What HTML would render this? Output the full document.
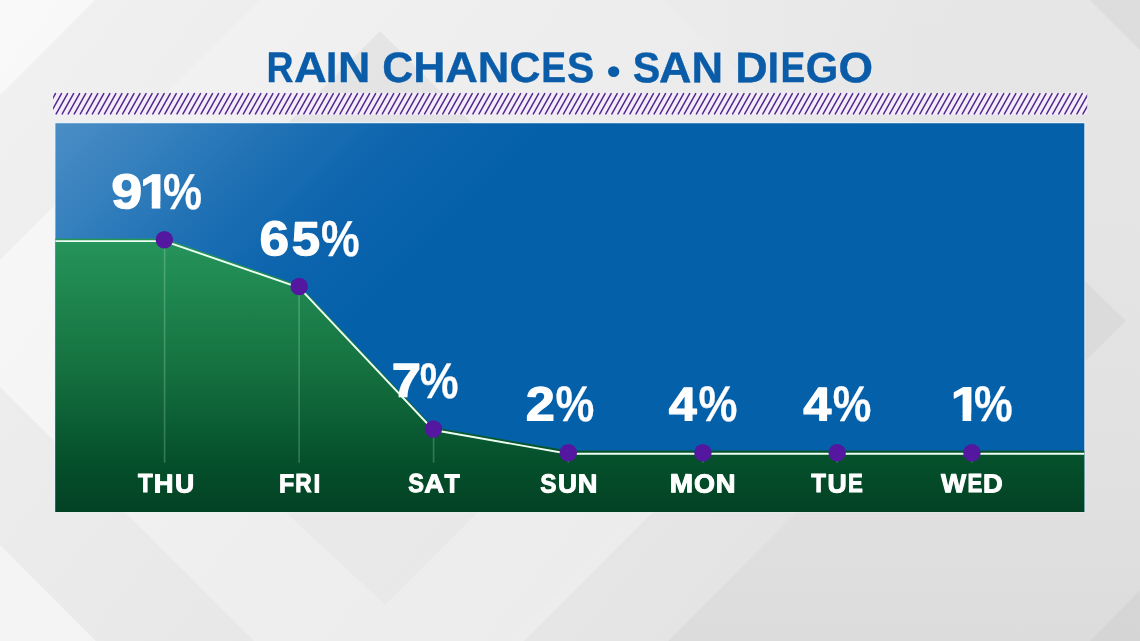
<!DOCTYPE html>
<html lang="en">
<head>
<meta charset="utf-8">
<title>Rain Chances - San Diego</title>
<style>
  html, body { margin: 0; padding: 0; background: #ececec; }
  body { width: 1140px; height: 641px; overflow: hidden; font-family: "Liberation Sans", sans-serif; }
  svg { display: block; }
  text { font-family: "Liberation Sans", sans-serif; font-weight: bold; text-rendering: geometricPrecision; }
</style>
</head>
<body>
<svg width="1140" height="641" viewBox="0 0 1140 641">
  <defs>
    <linearGradient id="bgGrad" gradientUnits="userSpaceOnUse" x1="0" y1="0" x2="1000" y2="800">
      <stop offset="0" stop-color="#f4f4f4"/>
      <stop offset="1" stop-color="#e2e2e2"/>
    </linearGradient>
    <linearGradient id="blueHi" gradientUnits="userSpaceOnUse" x1="55" y1="123" x2="305" y2="373">
      <stop offset="0" stop-color="#4b8ec6"/>
      <stop offset="0.25" stop-color="#347fbd"/>
      <stop offset="0.5" stop-color="#1c6fb3"/>
      <stop offset="0.75" stop-color="#0c64ad"/>
      <stop offset="1" stop-color="#0560aa"/>
    </linearGradient>
    <linearGradient id="greenGrad" gradientUnits="userSpaceOnUse" x1="0" y1="241" x2="0" y2="512">
      <stop offset="0" stop-color="#25945b"/>
      <stop offset="0.45" stop-color="#167341"/>
      <stop offset="0.8" stop-color="#05512c"/>
      <stop offset="1" stop-color="#034224"/>
    </linearGradient>
    <clipPath id="hatchClip"><rect x="53.1" y="92" width="1034.1" height="24"/></clipPath>
    <linearGradient id="rightShade" gradientUnits="userSpaceOnUse" x1="0" y1="0" x2="0" y2="641">
      <stop offset="0" stop-color="#e6e6e6"/>
      <stop offset="0.39" stop-color="#e4e4e4"/>
      <stop offset="0.75" stop-color="#e1e1e1"/>
      <stop offset="0.936" stop-color="#dddddd"/>
      <stop offset="1" stop-color="#dcdcdc"/>
    </linearGradient>
    <linearGradient id="topFade" gradientUnits="userSpaceOnUse" x1="700" y1="0" x2="1000" y2="0">
      <stop offset="0" stop-color="#ffffff" stop-opacity="0.2"/>
      <stop offset="1" stop-color="#ffffff" stop-opacity="0"/>
    </linearGradient>
    <clipPath id="oneA"><path clip-rule="evenodd" d="M0,0H1140V641H0Z M141.71,201.68H151.79V210.60H141.71Z M160.30,201.68H169.70V210.60H160.30Z"/></clipPath>
    <clipPath id="oneB"><path clip-rule="evenodd" d="M0,0H1140V641H0Z M952.46,414.31H962.62V423.20H952.46Z M971.20,414.31H980.68V423.20H971.20Z"/></clipPath>
    <clipPath id="chartClip"><rect x="55.4" y="123.2" width="1028.9" height="388.9"/></clipPath>
  </defs>

  <!-- background -->
  <rect x="0" y="0" width="1140" height="641" fill="url(#bgGrad)"/>
  <g id="facets">
    <polygon points="0,0 95,0 0,95" fill="#ffffff" fill-opacity="0.45"/>
    <polygon points="95,0 260,0 0,260 0,95" fill="#000000" fill-opacity="0.012"/>
    <polygon points="380,31 480,131 280,131" fill="#000000" fill-opacity="0.045"/>
    <polygon points="665,0 1140,0 1140,641 668,641 988.5,320.5" fill="url(#rightShade)"/>
    <polygon points="665,0 1000,0 1000,131 796,131" fill="url(#topFade)"/>
    <polygon points="1090,0 1140,0 1140,50" fill="#000000" fill-opacity="0.04"/>
    <polygon points="1080,276 1126,321 1080,366" fill="#000000" fill-opacity="0.035"/>
    <polygon points="0,260 70,190 70,457 0,387" fill="#ffffff" fill-opacity="0.35"/>
    <polygon points="0,387 0,545 96,641 254,641" fill="#000000" fill-opacity="0.015"/>
    <polygon points="0,545 96,641 0,641" fill="#ffffff" fill-opacity="0.35"/>
    <polygon points="118,505 646,505 510,641 254,641" fill="#ffffff" fill-opacity="0.15"/>
    <polygon points="283,510 385,605 480,510" fill="#000000" fill-opacity="0.02"/>
    <polygon points="641,510 655,510 524,641 510,641" fill="#ffffff" fill-opacity="0.2"/>
    <polygon points="655,510 799,510 668,641 524,641" fill="#000000" fill-opacity="0.012"/>
    <polygon points="1090,641 1140,590 1140,641" fill="#000000" fill-opacity="0.03"/>
  </g>

  <!-- title -->
  <text fill="#0a5ca8" stroke="#0a5ca8" stroke-width="0.4" stroke-linejoin="round" transform="rotate(0.03 570.1 67.4)"><tspan x="266.55" y="82.15" font-size="42.8" textLength="26.96" lengthAdjust="spacingAndGlyphs">R</tspan><tspan x="293.9" y="82.15" font-size="42.8" textLength="32.75" lengthAdjust="spacingAndGlyphs">A</tspan><tspan x="326.1" y="82.15" font-size="42.8" textLength="11.27" lengthAdjust="spacingAndGlyphs">I</tspan><tspan x="338.05" y="82.15" font-size="42.8" textLength="32.28" lengthAdjust="spacingAndGlyphs">N</tspan> <tspan x="382.2" y="82.15" font-size="42.8" textLength="30.97" lengthAdjust="spacingAndGlyphs">C</tspan><tspan x="413.35" y="82.15" font-size="42.8" textLength="32.16" lengthAdjust="spacingAndGlyphs">H</tspan><tspan x="445.2" y="82.15" font-size="42.8" textLength="32.64" lengthAdjust="spacingAndGlyphs">A</tspan><tspan x="477.7" y="82.15" font-size="42.8" textLength="31.53" lengthAdjust="spacingAndGlyphs">N</tspan><tspan x="509.6" y="82.15" font-size="42.8" textLength="30.97" lengthAdjust="spacingAndGlyphs">C</tspan><tspan x="541.15" y="82.15" font-size="42.8" textLength="24.88" lengthAdjust="spacingAndGlyphs">E</tspan><tspan x="567.1" y="82.15" font-size="42.8" textLength="27.17" lengthAdjust="spacingAndGlyphs">S</tspan> <tspan x="606.65" y="83.9" font-size="37.79" textLength="13.86" lengthAdjust="spacingAndGlyphs" stroke-width="0">•</tspan> <tspan x="632.8" y="82.15" font-size="42.8" textLength="27.5" lengthAdjust="spacingAndGlyphs">S</tspan><tspan x="659.0" y="82.15" font-size="42.8" textLength="32.49" lengthAdjust="spacingAndGlyphs">A</tspan><tspan x="691.5" y="82.15" font-size="42.8" textLength="31.56" lengthAdjust="spacingAndGlyphs">N</tspan> <tspan x="735.15" y="82.15" font-size="42.8" textLength="32.47" lengthAdjust="spacingAndGlyphs">D</tspan><tspan x="767.6" y="82.15" font-size="42.8" textLength="11.54" lengthAdjust="spacingAndGlyphs">I</tspan><tspan x="780.55" y="82.15" font-size="42.8" textLength="24.76" lengthAdjust="spacingAndGlyphs">E</tspan><tspan x="805.8" y="82.15" font-size="42.8" textLength="32.53" lengthAdjust="spacingAndGlyphs">G</tspan><tspan x="838.5" y="82.15" font-size="42.8" textLength="34.54" lengthAdjust="spacingAndGlyphs">O</tspan></text>

  <!-- hatch strip -->
  <rect x="53" y="92.8" width="1034.2" height="22" fill="#f3ecfa"/>
  <path clip-path="url(#hatchClip)" fill="none" stroke="#532a8b" stroke-width="1.5" stroke-linecap="round" d="M44.08,113.95l11.36,-20.30M50.12,113.95l11.36,-20.30M56.16,113.95l11.36,-20.30M62.20,113.95l11.36,-20.30M68.24,113.95l11.36,-20.30M74.28,113.95l11.36,-20.30M80.32,113.95l11.36,-20.30M86.36,113.95l11.36,-20.30M92.40,113.95l11.36,-20.30M98.44,113.95l11.36,-20.30M104.48,113.95l11.36,-20.30M110.52,113.95l11.36,-20.30M116.56,113.95l11.36,-20.30M122.60,113.95l11.36,-20.30M128.64,113.95l11.36,-20.30M134.68,113.95l11.36,-20.30M140.72,113.95l11.36,-20.30M146.76,113.95l11.36,-20.30M152.80,113.95l11.36,-20.30M158.84,113.95l11.36,-20.30M164.88,113.95l11.36,-20.30M170.92,113.95l11.36,-20.30M176.96,113.95l11.36,-20.30M183.00,113.95l11.36,-20.30M189.04,113.95l11.36,-20.30M195.08,113.95l11.36,-20.30M201.12,113.95l11.36,-20.30M207.16,113.95l11.36,-20.30M213.20,113.95l11.36,-20.30M219.24,113.95l11.36,-20.30M225.28,113.95l11.36,-20.30M231.32,113.95l11.36,-20.30M237.36,113.95l11.36,-20.30M243.40,113.95l11.36,-20.30M249.44,113.95l11.36,-20.30M255.48,113.95l11.36,-20.30M261.52,113.95l11.36,-20.30M267.56,113.95l11.36,-20.30M273.60,113.95l11.36,-20.30M279.64,113.95l11.36,-20.30M285.68,113.95l11.36,-20.30M291.72,113.95l11.36,-20.30M297.76,113.95l11.36,-20.30M303.80,113.95l11.36,-20.30M309.84,113.95l11.36,-20.30M315.88,113.95l11.36,-20.30M321.92,113.95l11.36,-20.30M327.96,113.95l11.36,-20.30M334.00,113.95l11.36,-20.30M340.04,113.95l11.36,-20.30M346.08,113.95l11.36,-20.30M352.12,113.95l11.36,-20.30M358.16,113.95l11.36,-20.30M364.20,113.95l11.36,-20.30M370.24,113.95l11.36,-20.30M376.28,113.95l11.36,-20.30M382.32,113.95l11.36,-20.30M388.36,113.95l11.36,-20.30M394.40,113.95l11.36,-20.30M400.44,113.95l11.36,-20.30M406.48,113.95l11.36,-20.30M412.52,113.95l11.36,-20.30M418.56,113.95l11.36,-20.30M424.60,113.95l11.36,-20.30M430.64,113.95l11.36,-20.30M436.68,113.95l11.36,-20.30M442.72,113.95l11.36,-20.30M448.76,113.95l11.36,-20.30M454.80,113.95l11.36,-20.30M460.84,113.95l11.36,-20.30M466.88,113.95l11.36,-20.30M472.92,113.95l11.36,-20.30M478.96,113.95l11.36,-20.30M485.00,113.95l11.36,-20.30M491.04,113.95l11.36,-20.30M497.08,113.95l11.36,-20.30M503.12,113.95l11.36,-20.30M509.16,113.95l11.36,-20.30M515.20,113.95l11.36,-20.30M521.24,113.95l11.36,-20.30M527.28,113.95l11.36,-20.30M533.32,113.95l11.36,-20.30M539.36,113.95l11.36,-20.30M545.40,113.95l11.36,-20.30M551.44,113.95l11.36,-20.30M557.48,113.95l11.36,-20.30M563.52,113.95l11.36,-20.30M569.56,113.95l11.36,-20.30M575.60,113.95l11.36,-20.30M581.64,113.95l11.36,-20.30M587.68,113.95l11.36,-20.30M593.72,113.95l11.36,-20.30M599.76,113.95l11.36,-20.30M605.80,113.95l11.36,-20.30M611.84,113.95l11.36,-20.30M617.88,113.95l11.36,-20.30M623.92,113.95l11.36,-20.30M629.96,113.95l11.36,-20.30M636.00,113.95l11.36,-20.30M642.04,113.95l11.36,-20.30M648.08,113.95l11.36,-20.30M654.12,113.95l11.36,-20.30M660.16,113.95l11.36,-20.30M666.20,113.95l11.36,-20.30M672.24,113.95l11.36,-20.30M678.28,113.95l11.36,-20.30M684.32,113.95l11.36,-20.30M690.36,113.95l11.36,-20.30M696.40,113.95l11.36,-20.30M702.44,113.95l11.36,-20.30M708.48,113.95l11.36,-20.30M714.52,113.95l11.36,-20.30M720.56,113.95l11.36,-20.30M726.60,113.95l11.36,-20.30M732.64,113.95l11.36,-20.30M738.68,113.95l11.36,-20.30M744.72,113.95l11.36,-20.30M750.76,113.95l11.36,-20.30M756.80,113.95l11.36,-20.30M762.84,113.95l11.36,-20.30M768.88,113.95l11.36,-20.30M774.92,113.95l11.36,-20.30M780.96,113.95l11.36,-20.30M787.00,113.95l11.36,-20.30M793.04,113.95l11.36,-20.30M799.08,113.95l11.36,-20.30M805.12,113.95l11.36,-20.30M811.16,113.95l11.36,-20.30M817.20,113.95l11.36,-20.30M823.24,113.95l11.36,-20.30M829.28,113.95l11.36,-20.30M835.32,113.95l11.36,-20.30M841.36,113.95l11.36,-20.30M847.40,113.95l11.36,-20.30M853.44,113.95l11.36,-20.30M859.48,113.95l11.36,-20.30M865.52,113.95l11.36,-20.30M871.56,113.95l11.36,-20.30M877.60,113.95l11.36,-20.30M883.64,113.95l11.36,-20.30M889.68,113.95l11.36,-20.30M895.72,113.95l11.36,-20.30M901.76,113.95l11.36,-20.30M907.80,113.95l11.36,-20.30M913.84,113.95l11.36,-20.30M919.88,113.95l11.36,-20.30M925.92,113.95l11.36,-20.30M931.96,113.95l11.36,-20.30M938.00,113.95l11.36,-20.30M944.04,113.95l11.36,-20.30M950.08,113.95l11.36,-20.30M956.12,113.95l11.36,-20.30M962.16,113.95l11.36,-20.30M968.20,113.95l11.36,-20.30M974.24,113.95l11.36,-20.30M980.28,113.95l11.36,-20.30M986.32,113.95l11.36,-20.30M992.36,113.95l11.36,-20.30M998.40,113.95l11.36,-20.30M1004.44,113.95l11.36,-20.30M1010.48,113.95l11.36,-20.30M1016.52,113.95l11.36,-20.30M1022.56,113.95l11.36,-20.30M1028.60,113.95l11.36,-20.30M1034.64,113.95l11.36,-20.30M1040.68,113.95l11.36,-20.30M1046.72,113.95l11.36,-20.30M1052.76,113.95l11.36,-20.30M1058.80,113.95l11.36,-20.30M1064.84,113.95l11.36,-20.30M1070.88,113.95l11.36,-20.30M1076.92,113.95l11.36,-20.30M1082.96,113.95l11.36,-20.30"/>

  <!-- chart -->
  <path d="M54.9,512.1 V122.7 H1084.8 V512.1" fill="none" stroke="#e6f5ff" stroke-opacity="1" stroke-width="1"/>
  <path d="M55.4,512.5 H1084.3" fill="none" stroke="#e4f2e8" stroke-opacity="0.5" stroke-width="0.8"/>
  <g clip-path="url(#chartClip)">
    <rect x="55" y="123" width="1030" height="390" fill="url(#blueHi)"/>
    <polygon points="55,238.5 164.4,238.5 299.2,285.1 433.4,427.3 568.3,450.5 1085,450.5 1085,513 55,513" fill="url(#greenGrad)"/>
    <polyline points="55,241.1 164.4,241.1 299.2,287.7 433.4,430 568.3,453.7 1085,453.7" fill="none" stroke="#ecfff2" stroke-width="1.9" stroke-linejoin="round"/>
    <g stroke="#dfffee" stroke-opacity="0.22" stroke-width="1.6">
      <line x1="164.6" y1="240" x2="164.6" y2="462.7"/>
      <line x1="299.1" y1="287" x2="299.1" y2="462.7"/>
      <line x1="433.6" y1="429" x2="433.6" y2="462.7"/>
      <line x1="568.3" y1="452" x2="568.3" y2="462.7"/>
      <line x1="702.9" y1="452" x2="702.9" y2="462.7"/>
      <line x1="837.2" y1="452" x2="837.2" y2="462.7"/>
      <line x1="971.9" y1="452" x2="971.9" y2="462.7"/>
    </g>
    <g fill="#53189f">
      <circle cx="164.4" cy="239.7" r="8.75"/>
      <circle cx="299.2" cy="286.5" r="8.75"/>
      <circle cx="433.4" cy="429" r="8.75"/>
      <circle cx="568.3" cy="452.8" r="8.75"/>
      <circle cx="702.9" cy="452.8" r="8.75"/>
      <circle cx="837.2" cy="452.8" r="8.75"/>
      <circle cx="971.9" cy="452.8" r="8.75"/>
    </g>
  </g>

  <!-- percentage labels -->
  <g fill="#ffffff" stroke="#ffffff" stroke-width="1.2" stroke-linejoin="round">
    <text transform="rotate(0.03 156.7 191.4)" clip-path="url(#oneA)"><tspan x="111.15" y="208.3" font-size="49.1" textLength="30.97" lengthAdjust="spacingAndGlyphs">9</tspan><tspan x="139.96" y="208.0" font-size="48.26" textLength="29.63" lengthAdjust="spacingAndGlyphs">1</tspan><tspan x="163.0" y="208.8" font-size="50.44" textLength="39.01" lengthAdjust="spacingAndGlyphs" stroke-width="0.3">%</tspan></text>
    <text transform="rotate(0.03 309.7 238.7)"><tspan x="259.5" y="255.25" font-size="48.76" textLength="29.59" lengthAdjust="spacingAndGlyphs">6</tspan><tspan x="291.8" y="255.25" font-size="47.79" textLength="28.32" lengthAdjust="spacingAndGlyphs">5</tspan><tspan x="321.0" y="256.1" font-size="50.58" textLength="38.68" lengthAdjust="spacingAndGlyphs" stroke-width="0.3">%</tspan></text>
    <text transform="rotate(0.03 425.4 380.3)"><tspan x="391.7" y="396.85" font-size="47.75" textLength="29.27" lengthAdjust="spacingAndGlyphs">7</tspan><tspan x="419.8" y="397.55" font-size="50.08" textLength="38.8" lengthAdjust="spacingAndGlyphs" stroke-width="0.3">%</tspan></text>
    <text transform="rotate(0.03 560.0 404.1)"><tspan x="525.7" y="420.45" font-size="48.07" textLength="29.1" lengthAdjust="spacingAndGlyphs">2</tspan><tspan x="555.5" y="421.4" font-size="50.08" textLength="38.79" lengthAdjust="spacingAndGlyphs" stroke-width="0.3">%</tspan></text>
    <text transform="rotate(0.03 702.5 404.1)"><tspan x="668.8" y="420.45" font-size="47.46" textLength="28.02" lengthAdjust="spacingAndGlyphs">4</tspan><tspan x="698.4" y="421.4" font-size="50.08" textLength="38.91" lengthAdjust="spacingAndGlyphs" stroke-width="0.3">%</tspan></text>
    <text transform="rotate(0.03 836.9 404.1)"><tspan x="803.2" y="420.45" font-size="47.46" textLength="28.12" lengthAdjust="spacingAndGlyphs">4</tspan><tspan x="832.75" y="421.4" font-size="50.08" textLength="38.59" lengthAdjust="spacingAndGlyphs" stroke-width="0.3">%</tspan></text>
    <text transform="rotate(0.03 982.8 404.1)" clip-path="url(#oneB)"><tspan x="950.67" y="420.6" font-size="47.97" textLength="29.9" lengthAdjust="spacingAndGlyphs">1</tspan><tspan x="974.0" y="421.4" font-size="50.08" textLength="38.64" lengthAdjust="spacingAndGlyphs" stroke-width="0.3">%</tspan></text>
  </g>

  <!-- day labels -->
  <g fill="#ffffff" stroke="#ffffff" stroke-width="1" stroke-linejoin="round">
    <text transform="rotate(0.03 165.4 483.4)"><tspan x="138.05" y="492.4" font-size="26.0" textLength="14.67" lengthAdjust="spacingAndGlyphs">T</tspan><tspan x="153.75" y="492.4" font-size="26.0" textLength="19.78" lengthAdjust="spacingAndGlyphs">H</tspan><tspan x="174.9" y="492.4" font-size="26.0" textLength="19.2" lengthAdjust="spacingAndGlyphs">U</tspan></text>
    <text transform="rotate(0.03 299.5 483.4)"><tspan x="279.05" y="492.4" font-size="26.0" textLength="15.24" lengthAdjust="spacingAndGlyphs">F</tspan><tspan x="295.2" y="492.4" font-size="26.0" textLength="16.4" lengthAdjust="spacingAndGlyphs">R</tspan><tspan x="313.4" y="492.4" font-size="26.0" textLength="6.8" lengthAdjust="spacingAndGlyphs">I</tspan></text>
    <text transform="rotate(0.03 434.2 483.4)"><tspan x="408.25" y="492.4" font-size="26.0" textLength="15.71" lengthAdjust="spacingAndGlyphs">S</tspan><tspan x="424.25" y="492.4" font-size="26.0" textLength="19.92" lengthAdjust="spacingAndGlyphs">A</tspan><tspan x="444.45" y="492.4" font-size="26.0" textLength="15.21" lengthAdjust="spacingAndGlyphs">T</tspan></text>
    <text transform="rotate(0.03 568.4 483.4)"><tspan x="540.35" y="492.4" font-size="26.0" textLength="16.26" lengthAdjust="spacingAndGlyphs">S</tspan><tspan x="557.9" y="492.4" font-size="26.0" textLength="18.98" lengthAdjust="spacingAndGlyphs">U</tspan><tspan x="577.85" y="492.4" font-size="26.0" textLength="19.67" lengthAdjust="spacingAndGlyphs">N</tspan></text>
    <text transform="rotate(0.03 702.6 483.4)"><tspan x="669.85" y="492.4" font-size="26.0" textLength="23.38" lengthAdjust="spacingAndGlyphs">M</tspan><tspan x="694.1" y="492.4" font-size="26.0" textLength="20.98" lengthAdjust="spacingAndGlyphs">O</tspan><tspan x="715.65" y="492.4" font-size="26.0" textLength="19.78" lengthAdjust="spacingAndGlyphs">N</tspan></text>
    <text transform="rotate(0.03 836.8 483.4)"><tspan x="811.25" y="492.4" font-size="26.0" textLength="14.67" lengthAdjust="spacingAndGlyphs">T</tspan><tspan x="827.6" y="492.4" font-size="26.0" textLength="19.2" lengthAdjust="spacingAndGlyphs">U</tspan><tspan x="848.1" y="492.4" font-size="26.0" textLength="14.85" lengthAdjust="spacingAndGlyphs">E</tspan></text>
    <text transform="rotate(0.03 971.3 483.4)"><tspan x="940.9" y="492.4" font-size="26.0" textLength="25.21" lengthAdjust="spacingAndGlyphs">W</tspan><tspan x="967.4" y="492.4" font-size="26.0" textLength="14.74" lengthAdjust="spacingAndGlyphs">E</tspan><tspan x="983.05" y="492.4" font-size="26.0" textLength="19.69" lengthAdjust="spacingAndGlyphs">D</tspan></text>
  </g>
</svg>
</body>
</html>
